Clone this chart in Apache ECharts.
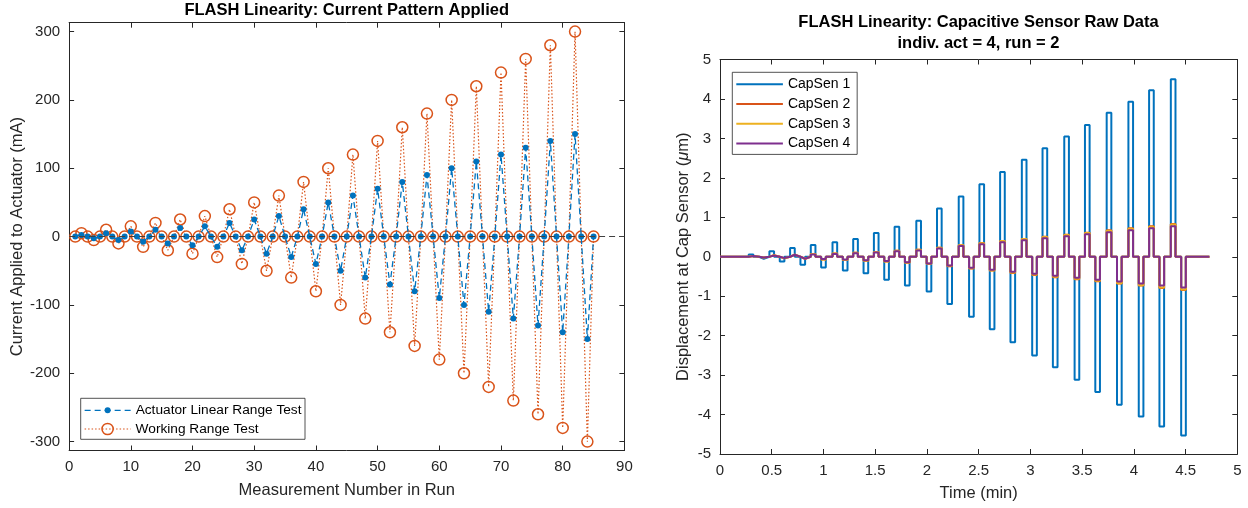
<!DOCTYPE html>
<html><head><meta charset="utf-8">
<script src="https://cdn.jsdelivr.net/npm/echarts@6/dist/echarts.min.js"></script>
<style>html,body{margin:0;padding:0;background:#fff}#c{width:1248px;height:508px}</style>
</head><body><div id="c"></div>
<script>
// ---------- Left chart data ----------
const measurementNumbers = Array.from({length: 85}, (_, i) => i + 1);
const actuatorLinearRange = [0,2.5,0,-2.5,0,5,0,-5,0,7.5,0,-7.5,0,10,0,-10,0,12.5,0,-12.5,0,15,0,-15,0,20,0,-20,0,25,0,-25,0,30,0,-30,0,40,0,-40,0,50,0,-50,0,60,0,-60,0,70,0,-70,0,80,0,-80,0,90,0,-90,0,100,0,-100,0,110,0,-110,0,120,0,-120,0,130,0,-130,0,140,0,-140,0,150,0,-150,0];
const workingRange = [0,5,0,-5,0,10,0,-10,0,15,0,-15,0,20,0,-20,0,25,0,-25,0,30,0,-30,0,40,0,-40,0,50,0,-50,0,60,0,-60,0,80,0,-80,0,100,0,-100,0,120,0,-120,0,140,0,-140,0,160,0,-160,0,180,0,-180,0,200,0,-200,0,220,0,-220,0,240,0,-240,0,260,0,-260,0,280,0,-280,0,300,0,-300,0];

// ---------- Right chart data (time in min, displacement in um) ----------
const posPulseTimes = [0.30,0.50,0.70,0.90,1.11,1.31,1.51,1.71,1.92,2.12,2.33,2.53,2.73,2.94,3.14,3.35,3.55,3.76,3.97,4.17,4.38];
const negPulseTimes = [0.40,0.60,0.80,1.00,1.21,1.41,1.61,1.81,2.02,2.22,2.43,2.63,2.83,3.04,3.24,3.45,3.65,3.86,4.07,4.27,4.48];
const pulseWidth = 0.045;
const runEndTime = 4.73;
const capSen1Pos = [0.06,0.14,0.22,0.30,0.37,0.45,0.60,0.76,0.91,1.22,1.53,1.84,2.15,2.46,2.75,3.05,3.34,3.65,3.93,4.22,4.50];
const capSen1Neg = [-0.05,-0.12,-0.20,-0.27,-0.35,-0.42,-0.58,-0.73,-0.88,-1.20,-1.52,-1.84,-2.17,-2.50,-2.80,-3.12,-3.43,-3.75,-4.05,-4.30,-4.53];
const capSen2Pos = [0.02,0.04,0.05,0.07,0.08,0.10,0.12,0.15,0.18,0.23,0.29,0.35,0.40,0.45,0.51,0.56,0.61,0.67,0.72,0.77,0.83];
const capSen2Neg = [-0.02,-0.04,-0.05,-0.07,-0.08,-0.10,-0.12,-0.15,-0.18,-0.24,-0.30,-0.35,-0.41,-0.46,-0.52,-0.57,-0.62,-0.68,-0.73,-0.79,-0.84];
const capSen3Pos = [0.02,0.04,0.05,0.07,0.08,0.10,0.12,0.15,0.18,0.23,0.29,0.34,0.40,0.45,0.50,0.55,0.60,0.66,0.71,0.76,0.82];
const capSen3Neg = [-0.02,-0.04,-0.05,-0.07,-0.08,-0.10,-0.12,-0.15,-0.18,-0.23,-0.29,-0.35,-0.40,-0.45,-0.51,-0.56,-0.61,-0.67,-0.72,-0.78,-0.83];
const capSen4Pos = [0.02,0.03,0.05,0.06,0.07,0.09,0.11,0.14,0.16,0.21,0.27,0.32,0.37,0.42,0.47,0.52,0.57,0.62,0.67,0.72,0.77];
const capSen4Neg = [-0.02,-0.03,-0.05,-0.06,-0.07,-0.09,-0.11,-0.14,-0.17,-0.22,-0.28,-0.33,-0.38,-0.43,-0.48,-0.53,-0.58,-0.63,-0.68,-0.73,-0.78];

function buildTrace(pos, neg) {
  const events = [];
  for (let k = 0; k < posPulseTimes.length; k++) {
    events.push([posPulseTimes[k], pos[k]]);
    events.push([negPulseTimes[k], neg[k]]);
  }
  const pts = [[0, 0]];
  events.forEach(([t, v]) => {
    const a = t - pulseWidth / 2, b = t + pulseWidth / 2;
    pts.push([a, 0], [a, v], [b, v], [b, 0]);
  });
  pts.push([runEndTime, 0]);
  return pts;
}

const FONT = 'Liberation Sans, Arial, Helvetica, sans-serif';
const AX = '#262626';
const C1 = '#0072BD', C2 = '#D95319', C3 = '#EDB120', C4 = '#7E2F8E';

function xAx(grid, pos, min, max, interval, name, labels) {
  return {
    gridIndex: grid, type: 'value', position: pos, min, max, interval,
    axisLine: {show: true, onZero: false, lineStyle: {color: AX, width: 1}},
    axisTick: {show: true, inside: true, length: 5, lineStyle: {color: AX}},
    axisLabel: {show: labels, margin: 9, fontSize: 15, color: AX, fontFamily: FONT},
    splitLine: {show: false},
    name: name, nameLocation: 'middle', nameGap: 31,
    nameTextStyle: {fontSize: 16.5, color: AX, fontFamily: FONT}
  };
}
function yAx(grid, pos, min, max, interval, name, labels, gap, rich) {
  const o = {
    gridIndex: grid, type: 'value', position: pos, min, max,
    axisLine: {show: true, onZero: false, lineStyle: {color: AX, width: 1}},
    axisTick: {show: true, inside: true, length: 5, lineStyle: {color: AX}},
    axisLabel: {show: labels, margin: 9, fontSize: 15, color: AX, fontFamily: FONT,
      showMinLabel: interval ? true : false, showMaxLabel: interval ? true : false},
    splitLine: {show: false},
    name: name, nameLocation: 'middle', nameGap: gap,
    nameTextStyle: {fontSize: 16.5, color: AX, fontFamily: FONT, rich: rich}
  };
  if (interval) o.interval = interval;
  return o;
}

const chart = echarts.init(document.getElementById('c'), null, {renderer: 'canvas'});
const option = {
  animation: false,
  backgroundColor: '#fff',
  title: [
    {text: 'FLASH Linearity: Current Pattern Applied', left: 346.7, top: 2, textAlign: 'center', padding: 0,
     textStyle: {fontSize: 16.5, fontWeight: 'bold', color: '#000', fontFamily: FONT}},
    {text: 'FLASH Linearity: Capacitive Sensor Raw Data\nindiv. act = 4, run = 2', left: 978.5, top: 12, textAlign: 'center', padding: 0,
     textStyle: {fontSize: 16.5, fontWeight: 'bold', color: '#000', fontFamily: FONT, lineHeight: 21}}
  ],
  grid: [
    {left: 69.1, top: 22.7, width: 555.3, height: 427.8},
    {left: 720, top: 59.5, width: 517.3, height: 394.5}
  ],
  xAxis: [
    xAx(0, 'bottom', 0, 90, 10, 'Measurement Number in Run', true),
    xAx(0, 'top', 0, 90, 10, '', false),
    xAx(1, 'bottom', 0, 5, 0.5, 'Time (min)', true),
    xAx(1, 'top', 0, 5, 0.5, '', false)
  ],
  yAxis: [
    yAx(0, 'left', -313, 313, null, 'Current Applied to Actuator (mA)', true, 42),
    yAx(0, 'right', -313, 313, null, '', false, 0),
    yAx(1, 'left', -5, 5, 1, 'Displacement at Cap Sensor ({mu|μ}m)', true, 28,
        {mu: {fontStyle: 'italic', fontSize: 16.5, color: AX, fontFamily: FONT}}),
    yAx(1, 'right', -5, 5, 1, '', false, 0)
  ],
  graphic: [
    {type: 'rect', z: 3, shape: {x: 80.7, y: 398.3, width: 224.3, height: 41},
     style: {fill: '#fff', stroke: AX, lineWidth: 0.8}}
  ],
  legend: [
    {data: ['Actuator Linear Range Test'], left: 84, top: 403.3, padding: 0, orient: 'vertical',
     itemWidth: 46, itemHeight: 7.5, selectedMode: false, z: 5,
     itemStyle: {color: C1, borderWidth: 0},
     lineStyle: {color: C1, width: 1.3, type: [6, 4]},
     textStyle: {fontSize: 13.7, lineHeight: 14, color: '#000', fontFamily: FONT}},
    {data: ['Working Range Test'], left: 84, top: 422, padding: 0, orient: 'vertical',
     itemWidth: 46, itemHeight: 14, selectedMode: false, z: 5,
     itemStyle: {color: 'rgba(0,0,0,0)', borderColor: C2, borderWidth: 1.5},
     lineStyle: {color: C2, width: 1.2, type: [1.5, 2]},
     textStyle: {fontSize: 13.7, lineHeight: 14, color: '#000', fontFamily: FONT}},
    {data: ['CapSen 1', 'CapSen 2', 'CapSen 3', 'CapSen 4'], left: 732.3, top: 72.3, orient: 'vertical',
     padding: [5, 7, 4, 4], itemGap: 5.7, itemWidth: 46.6, itemHeight: 14, selectedMode: false,
     backgroundColor: '#fff', borderColor: AX, borderWidth: 0.8,
     icon: 'path://M0,0H46V2H0Z', itemStyle: {borderWidth: 0},
     textStyle: {fontSize: 14, lineHeight: 14, color: '#000', fontFamily: FONT}}
  ],
  series: [
    {name: 'Actuator Linear Range Test', type: 'line', xAxisIndex: 0, yAxisIndex: 0,
     data: measurementNumbers.map((n, i) => [n, actuatorLinearRange[i]]),
     symbol: 'circle', symbolSize: 6, showAllSymbol: true, z: 3,
     itemStyle: {color: C1, borderWidth: 0},
     lineStyle: {color: C1, width: 1.3, type: [6, 4]},
     markLine: {silent: true, symbol: ['none', 'none'], label: {show: false},
       lineStyle: {color: '#404040', type: [6, 4], width: 1}, data: [{yAxis: 0}]}},
    {name: 'Working Range Test', type: 'line', xAxisIndex: 0, yAxisIndex: 0,
     data: measurementNumbers.map((n, i) => [n, workingRange[i]]),
     symbol: 'circle', symbolSize: 11, showAllSymbol: true, z: 2,
     itemStyle: {color: 'rgba(0,0,0,0)', borderColor: C2, borderWidth: 1.5},
     lineStyle: {color: C2, width: 1.2, type: [1.5, 2]}},
    {name: 'CapSen 1', type: 'line', xAxisIndex: 2, yAxisIndex: 2, data: buildTrace(capSen1Pos, capSen1Neg),
     symbol: 'none', itemStyle: {color: C1}, lineStyle: {color: C1, width: 2}},
    {name: 'CapSen 2', type: 'line', xAxisIndex: 2, yAxisIndex: 2, data: buildTrace(capSen2Pos, capSen2Neg),
     symbol: 'none', itemStyle: {color: C2}, lineStyle: {color: C2, width: 2}},
    {name: 'CapSen 3', type: 'line', xAxisIndex: 2, yAxisIndex: 2, data: buildTrace(capSen3Pos, capSen3Neg),
     symbol: 'none', itemStyle: {color: C3}, lineStyle: {color: C3, width: 2}},
    {name: 'CapSen 4', type: 'line', xAxisIndex: 2, yAxisIndex: 2, data: buildTrace(capSen4Pos, capSen4Neg),
     symbol: 'none', itemStyle: {color: C4}, lineStyle: {color: C4, width: 2}}
  ]
};
chart.setOption(option);
</script></body></html>
